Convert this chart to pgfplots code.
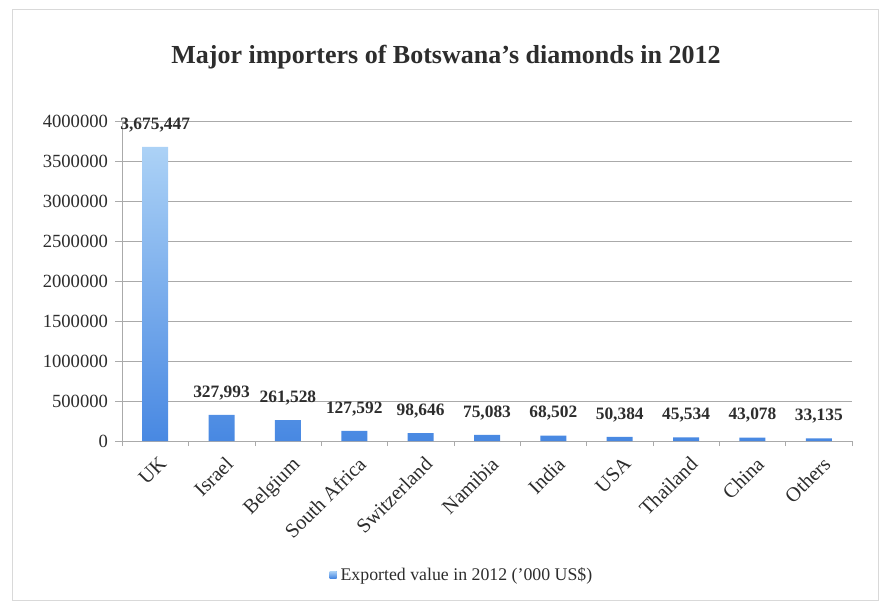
\documentclass[border=0pt]{standalone}
\usepackage{pgfplots}
\pgfplotsset{compat=1.18}
\usepackage{pgfplotstable}
\usepackage{fontspec}
\setmainfont{Liberation Serif}
\definecolor{barlight}{RGB}{172,210,246}
\definecolor{bardark}{RGB}{72,136,226}
\definecolor{gridc}{RGB}{170,170,170}
\definecolor{txt}{RGB}{45,45,45}
\pgfplotstableread{
x y label
0 3675447 3,675,447
1 327993 327,993
2 261528 261,528
3 127592 127,592
4 98646 98,646
5 75083 75,083
6 68502 68,502
7 50384 50,384
8 45534 45,534
9 43078 43,078
10 33135 33,135
}\datatab
\begin{document}
\begin{tikzpicture}
\useasboundingbox (0,0) rectangle (441pt,302.5pt);
\draw[gray!30, line width=0.4pt] (6pt,2.5pt) rectangle (439pt,298pt);
\node[font=\bfseries\fontsize{13}{15}\selectfont, text=txt] at (223pt,274pt) {Major importers of Botswana's diamonds in 2012};
\begin{axis}[
  at={(61pt,82pt)}, anchor=south west,
  scale only axis, width=365pt, height=160pt,
  xmin=-0.5, xmax=10.5, ymin=0, ymax=4000000,
  axis lines=left, axis line style={gridc, -},
  xtick={0,...,10},
  xticklabels={UK,Israel,Belgium,South Africa,Switzerland,Namibia,India,USA,Thailand,China,Others},
  minor xtick={-0.5,0.5,...,10.5},
  major x tick style={draw=none},
  minor tick length=2.5pt,
  major tick length=3.5pt,
  tick align=outside,
  tick style={gridc},
  ytick={0,500000,...,4000000},
  scaled y ticks=false,
  yticklabel style={/pgf/number format/fixed, /pgf/number format/precision=0, /pgf/number format/1000 sep={}, /pgf/number format/assume math mode=true, text=txt, font=\fontsize{9.3}{10}\selectfont},
  xticklabel style={rotate=45, anchor=north east, text=txt, font=\fontsize{10.2}{11}\selectfont, yshift=-2pt, inner sep=1.5pt},
  ymajorgrids, grid style={gridc, line width=0.4pt},
  legend style={at={(0.467,-0.419)}, anchor=center, draw=none, fill=none, font=\fontsize{8.9}{10}\selectfont, text=txt},
  legend image code/.code={\fill[bardark!80] (0pt,-1.5pt) rectangle (3.5pt,2pt);},
]
\addplot[ybar, bar width=13pt, draw=none, top color=barlight, bottom color=bardark,
  point meta=explicit symbolic,
  nodes near coords={\pgfplotspointmeta},
  every node near coord/.append style={font=\bfseries\fontsize{8.7}{10}\selectfont, text=txt, yshift=4pt}]
  table[x=x, y=y, meta=label] {\datatab};
\addlegendentry{Exported value in 2012 ('000 US\$)}
\end{axis}
\end{tikzpicture}
\end{document}
